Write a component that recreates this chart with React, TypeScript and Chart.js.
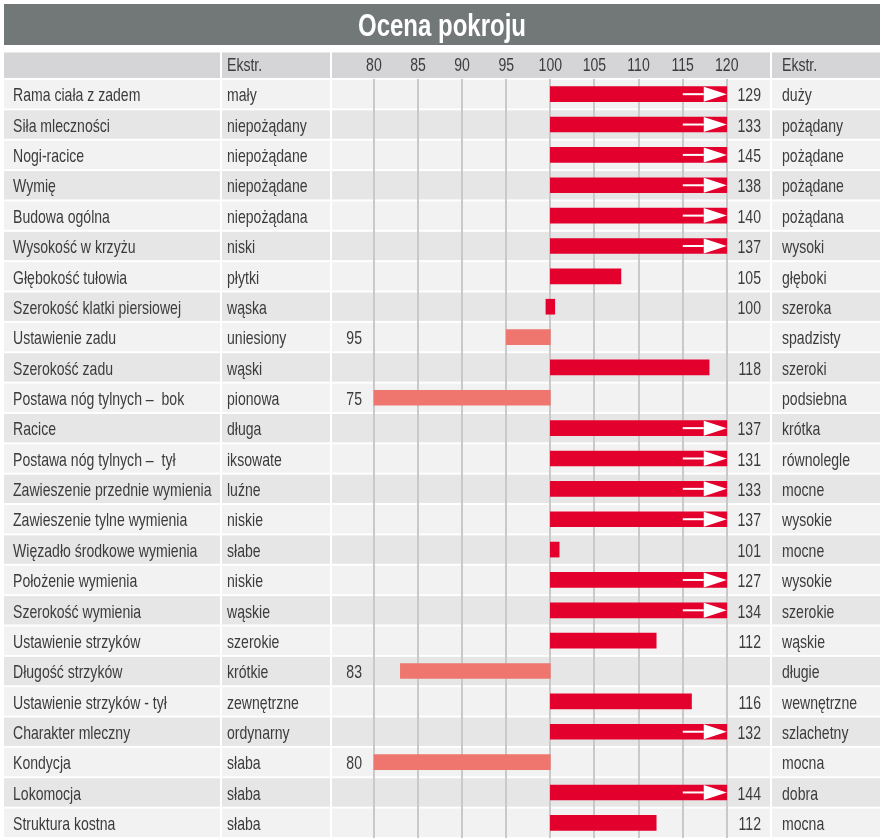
import React, { useEffect, useRef } from 'react';
import { Chart, registerables } from 'chart.js';

Chart.register(...registerables);

const TITLE = 'Ocena pokroju';
const HEADER_EXT = 'Ekstr.';

const traits = [
  'Rama ciała z zadem',
  'Siła mleczności',
  'Nogi-racice',
  'Wymię',
  'Budowa ogólna',
  'Wysokość w krzyżu',
  'Głębokość tułowia',
  'Szerokość klatki piersiowej',
  'Ustawienie zadu',
  'Szerokość zadu',
  'Postawa nóg tylnych –  bok',
  'Racice',
  'Postawa nóg tylnych –  tył',
  'Zawieszenie przednie wymienia',
  'Zawieszenie tylne wymienia',
  'Więzadło środkowe wymienia',
  'Położenie wymienia',
  'Szerokość wymienia',
  'Ustawienie strzyków',
  'Długość strzyków',
  'Ustawienie strzyków - tył',
  'Charakter mleczny',
  'Kondycja',
  'Lokomocja',
  'Struktura kostna',
];

const lowExtremes = [
  'mały', 'niepożądany', 'niepożądane', 'niepożądane', 'niepożądana', 'niski',
  'płytki', 'wąska', 'uniesiony', 'wąski', 'pionowa', 'długa', 'iksowate',
  'luźne', 'niskie', 'słabe', 'niskie', 'wąskie', 'szerokie', 'krótkie',
  'zewnętrzne', 'ordynarny', 'słaba', 'słaba', 'słaba',
];

const highExtremes = [
  'duży', 'pożądany', 'pożądane', 'pożądane', 'pożądana', 'wysoki',
  'głęboki', 'szeroka', 'spadzisty', 'szeroki', 'podsiebna', 'krótka', 'równolegle',
  'mocne', 'wysokie', 'mocne', 'wysokie', 'szerokie', 'wąskie', 'długie',
  'wewnętrzne', 'szlachetny', 'mocna', 'dobra', 'mocna',
];

// printed scores
const scores = [
  129, 133, 145, 138, 140, 137, 105, 100, 95, 118, 75, 137, 131,
  133, 137, 101, 127, 134, 112, 83, 116, 132, 80, 144, 112,
];

// bar lengths as drawn in the picture
const barValues = [
  129, 133, 145, 138, 140, 137, 108, 100, 95, 118, 75, 137, 131,
  133, 137, 101, 127, 134, 112, 83, 116, 132, 80, 144, 112,
];

const tickValues = [80, 85, 90, 95, 100, 105, 110, 115, 120];

const AXIS_MIN = 75.25;
const AXIS_MAX = 124.9;
const BASE = 100;
const CLIP_LOW = 80;
const CLIP_HIGH = 120;

const FONT = '"Liberation Sans", Arial, sans-serif';
const NARROW = 0.74;
const TEXT_COLOR = '#3c3c3c';
const RED = '#e3002c';
const PINK = '#ee766f';

const COLS = [
  { x: 4, w: 216 },
  { x: 222, w: 108 },
  { x: 332, w: 438 },
  { x: 772, w: 108 },
];

function narrowText(ctx: CanvasRenderingContext2D, text: string, x: number, y: number, sx: number) {
  ctx.save();
  ctx.translate(x, y);
  ctx.scale(sx, 1);
  ctx.fillText(text, 0, 0);
  ctx.restore();
}

const tablePlugin = {
  id: 'tablePlugin',
  beforeDraw(chart: any) {
    const ctx = chart.ctx;
    const y = chart.scales.y;
    ctx.save();
    // title bar
    ctx.fillStyle = '#727778';
    ctx.fillRect(4, 4, 876, 41);
    ctx.fillStyle = '#ffffff';
    ctx.font = `bold 32px ${FONT}`;
    ctx.textAlign = 'center';
    ctx.textBaseline = 'alphabetic';
    narrowText(ctx, TITLE, 442, 36, 0.75);
    // header row
    ctx.fillStyle = '#d5d4d6';
    COLS.forEach((c) => ctx.fillRect(c.x, 52.5, c.w, 25.5));
    // body rows
    traits.forEach((_, i) => {
      const cy = y.getPixelForValue(i);
      ctx.fillStyle = i % 2 === 0 ? '#f2f2f2' : '#e6e6e6';
      COLS.forEach((c) => ctx.fillRect(c.x, cy - 14.2, c.w, 28.4));
    });
    ctx.restore();
  },
  afterDatasetsDraw(chart: any) {
    const ctx = chart.ctx;
    const x = chart.scales.x;
    const y = chart.scales.y;
    const meta = chart.getDatasetMeta(0);
    ctx.save();
    // arrows for capped bars
    barValues.forEach((v, i) => {
      if (v <= CLIP_HIGH) return;
      const el = meta.data[i];
      const cy = el.y;
      const h = el.height;
      const tip = x.getPixelForValue(CLIP_HIGH);
      const base = tip - 23;
      ctx.fillStyle = '#ffffff';
      ctx.beginPath();
      ctx.moveTo(base, cy - h / 2);
      ctx.lineTo(tip, cy);
      ctx.lineTo(base, cy + h / 2);
      ctx.closePath();
      ctx.fill();
      ctx.fillRect(tip - 44, cy - 1, 21, 2);
    });
    // texts
    ctx.font = `19px ${FONT}`;
    ctx.fillStyle = TEXT_COLOR;
    ctx.textBaseline = 'middle';
    ctx.textAlign = 'left';
    narrowText(ctx, HEADER_EXT, 227, 66, NARROW);
    narrowText(ctx, HEADER_EXT, 782, 66, NARROW);
    ctx.textAlign = 'center';
    tickValues.forEach((t) => {
      narrowText(ctx, String(t), x.getPixelForValue(t), 66, NARROW);
    });
    traits.forEach((t, i) => {
      const cy = y.getPixelForValue(i) + 2;
      ctx.textAlign = 'left';
      narrowText(ctx, t, 13, cy, NARROW);
      narrowText(ctx, lowExtremes[i], 227, cy, NARROW);
      narrowText(ctx, highExtremes[i], 782, cy, NARROW);
      const s = scores[i];
      ctx.textAlign = 'right';
      if (s >= BASE) {
        narrowText(ctx, String(s), 761, cy, NARROW);
      } else {
        narrowText(ctx, String(s), 362, cy, NARROW);
      }
    });
    ctx.restore();
  },
};

export default function App() {
  const canvasRef = useRef<HTMLCanvasElement | null>(null);

  useEffect(() => {
    if (!canvasRef.current) return;
    const data = barValues.map((v) => {
      if (v === BASE) return [BASE - 0.5, BASE + 0.5];
      const clipped = Math.max(CLIP_LOW, Math.min(CLIP_HIGH, v));
      return [Math.min(BASE, clipped), Math.max(BASE, clipped)];
    });
    const colors = barValues.map((v) => (v < BASE ? PINK : RED));

    const chart = new Chart(canvasRef.current, {
      type: 'bar',
      data: {
        labels: traits,
        datasets: [
          {
            data: data as any,
            backgroundColor: colors,
            borderWidth: 0,
            barThickness: 15,
          },
        ],
      },
      options: {
        indexAxis: 'y',
        responsive: false,
        animation: false,
        devicePixelRatio: 1,
        layout: { padding: { left: 332, right: 113, top: 52, bottom: 1 } },
        scales: {
          x: {
            type: 'linear',
            position: 'top',
            min: AXIS_MIN,
            max: AXIS_MAX,
            afterBuildTicks: (axis: any) => {
              axis.ticks = tickValues.map((v) => ({ value: v }));
            },
            afterFit: (axis: any) => {
              axis.height = 27;
            },
            grid: { color: '#c9c9c9', lineWidth: 2, drawTicks: false },
            border: { display: false },
            ticks: { display: false },
          },
          y: {
            type: 'category',
            display: false,
          },
        },
        plugins: {
          legend: { display: false },
          tooltip: { enabled: false },
          title: { display: false },
        },
      },
      plugins: [tablePlugin],
    });
    return () => chart.destroy();
  }, []);

  return (
    <div style={{ position: 'absolute', left: 0, top: 0, width: 883, height: 839 }}>
      <canvas ref={canvasRef} width={883} height={839} />
    </div>
  );
}
